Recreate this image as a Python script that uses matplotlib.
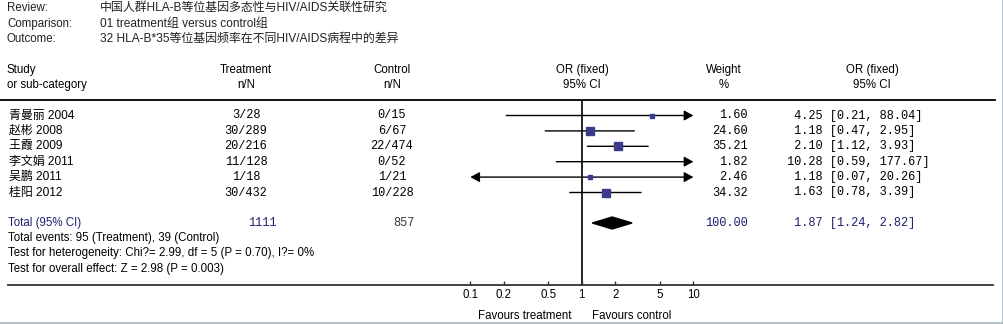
import numpy as np
import matplotlib.pyplot as plt

plt.rcParams['font.family'] = ['Liberation Sans', 'Noto Sans CJK SC', 'DejaVu Sans']

# ---- data ----
review = "中国人群HLA-B等位基因多态性与HIV/AIDS关联性研究"
comparison = "01 treatment组 versus control组"
outcome = "32 HLA-B*35等位基因频率在不同HIV/AIDS病程中的差异"

studies = ["青曼丽 2004", "赵彬 2008", "王霞 2009", "李文娟 2011", "吴鹏 2011", "桂阳 2012"]
treat_n = [3, 30, 20, 11, 1, 30]
treat_N = [28, 289, 216, 128, 18, 432]
ctrl_n = [0, 6, 22, 0, 1, 10]
ctrl_N = [15, 67, 474, 52, 21, 228]
weights = [1.60, 24.60, 35.21, 1.82, 2.46, 34.32]
or_est = [4.25, 1.18, 2.10, 10.28, 1.18, 1.63]
ci_low = [0.21, 0.47, 1.12, 0.59, 0.07, 0.78]
ci_high = [88.04, 2.95, 3.93, 177.67, 20.26, 3.39]

total_treat = 1111
total_ctrl = 857
total_weight = 100.00
total_or = 1.87
total_low = 1.24
total_high = 2.82

footer = [
    "Total events: 95 (Treatment), 39 (Control)",
    "Test for heterogeneity: Chi?= 2.99, df = 5 (P = 0.70), I?= 0%",
    "Test for overall effect: Z = 2.98 (P = 0.003)",
]
tick_vals = [0.1, 0.2, 0.5, 1, 2, 5, 10]
tick_labels = ["0.1", "0.2", "0.5", "1", "2", "5", "10"]

# ---- layout (pixels) ----
W, H = 1004, 324
row_y = [115.5 + 15.4 * i for i in range(len(studies))]
total_y = 223
navy = '#1f1f6f'
sq_col = '#3b3b8c'
mono = 'Liberation Mono'
fs = 8.3
mfs = 8.6

fig = plt.figure(figsize=(W / 100, H / 100), dpi=100)
ov = fig.add_axes([0, 0, 1, 1])
ov.set_xlim(0, W)
ov.set_ylim(H, 0)
ov.axis('off')

# header
for i, (lab, val) in enumerate([("Review:", review), ("Comparison:", comparison), ("Outcome:", outcome)]):
    y = 8 + 15.5 * i
    ov.text(7, y, lab, fontsize=fs, va='center', color='#222222')
    ov.text(100, y, val, fontsize=8.6, va='center', color='#222222')

ov.text(7, 70, "Study", fontsize=fs, va='center')
ov.text(7, 85, "or sub-category", fontsize=fs, va='center')
for x, a, b in [(246, "Treatment", "n/N"), (392, "Control", "n/N"),
                (582, "OR (fixed)", "95% CI"), (724, "Weight", "%"), (872, "OR (fixed)", "95% CI")]:
    ov.text(x, 70, a, fontsize=fs, va='center', ha='center')
    ov.text(x, 85, b, fontsize=fs, va='center', ha='center')

ov.plot([0, 995], [100, 100], color='black', lw=1.3)
ov.plot([8, 993], [285, 285], color='#333333', lw=1.3)

# study rows
for i, y in enumerate(row_y):
    ov.text(9, y, studies[i], fontsize=8.6, va='center')
    ov.text(246, y, f"{treat_n[i]}/{treat_N[i]}", fontsize=mfs, va='center', ha='center', family=mono)
    ov.text(392, y, f"{ctrl_n[i]}/{ctrl_N[i]}", fontsize=mfs, va='center', ha='center', family=mono)
    ov.text(748, y, f"{weights[i]:.2f}", fontsize=mfs, va='center', ha='right', family=mono)
    ov.text(787, y, f"{or_est[i]:>5.2f} [{ci_low[i]:.2f}, {ci_high[i]:.2f}]", fontsize=mfs, va='center', family=mono)

# total row
ov.text(8, total_y, "Total (95% CI)", fontsize=fs, va='center', color=navy)
ov.text(262, total_y, f"{total_treat}", fontsize=mfs, va='center', ha='center', family=mono, color=navy)
ov.text(404, total_y, f"{total_ctrl}", fontsize=mfs, va='center', ha='center', family=mono, color='#333333')
ov.text(748, total_y, f"{total_weight:.2f}", fontsize=mfs, va='center', ha='right', family=mono, color=navy)
ov.text(787, total_y, f"{total_or:>5.2f} [{total_low:.2f}, {total_high:.2f}]", fontsize=mfs, va='center', family=mono, color=navy)
for i, t in enumerate(footer):
    ov.text(8, 238 + 15.3 * i, t, fontsize=fs, va='center')

ov.text(572, 316, "Favours treatment", fontsize=fs, va='center', ha='right')
ov.text(592, 316, "Favours control", fontsize=fs, va='center', ha='left')

# border
ov.plot([1003, 1003], [0, 323], color='#aab4c0', lw=1.2)
ov.plot([0, 1003], [323, 323], color='#aab4c0', lw=1.2)

# ---- forest axes ----
x0, x1 = 470.3, 693.4
ax = fig.add_axes([x0 / W, (H - 285) / H, (x1 - x0) / W, (285 - 100) / H])
ax.set_xscale('log')
ax.set_xlim(0.1, 10)
ax.set_ylim(285, 100)
ax.patch.set_visible(False)
for s in ax.spines.values():
    s.set_visible(False)
ax.set_yticks([])
ax.set_xticks(tick_vals)
ax.set_xticklabels(tick_labels)
ax.minorticks_off()
ax.tick_params(axis='x', direction='in', length=3, width=1, labelsize=fs, pad=3, color='#333333')

ax.axvline(1, color='black', lw=1.2, zorder=1)

lo_lim, hi_lim = 0.1, 10
for i, y in enumerate(row_y):
    lo, hi = ci_low[i], ci_high[i]
    left_arrow = lo < lo_lim
    right_arrow = hi > hi_lim
    lo_c = max(lo, lo_lim)
    hi_c = min(hi, hi_lim)
    if left_arrow and right_arrow:
        style = '<|-|>'
    elif right_arrow:
        style = '-|>'
    elif left_arrow:
        style = '<|-'
    else:
        style = '-'
    if style != '-':
        style += ',head_length=0.55,head_width=0.3'
    ax.annotate('', xy=(hi_c, y), xytext=(lo_c, y),
                arrowprops=dict(arrowstyle=style, color='black', lw=1.0,
                                shrinkA=0, shrinkB=0, mutation_scale=10),
                zorder=2)
    # point estimate outside the plotted range is not drawn
    if lo_lim <= or_est[i] <= hi_lim:
        side = 4 + 0.13 * weights[i]
        ax.plot(or_est[i], y, marker='s', markersize=side * 0.72, color=sq_col,
                markeredgecolor=sq_col, zorder=3)

ax.fill([total_low, total_or, total_high, total_or],
        [total_y, total_y - 6, total_y, total_y + 6], color='black', zorder=3)

fig.savefig('out.png', dpi=100)
